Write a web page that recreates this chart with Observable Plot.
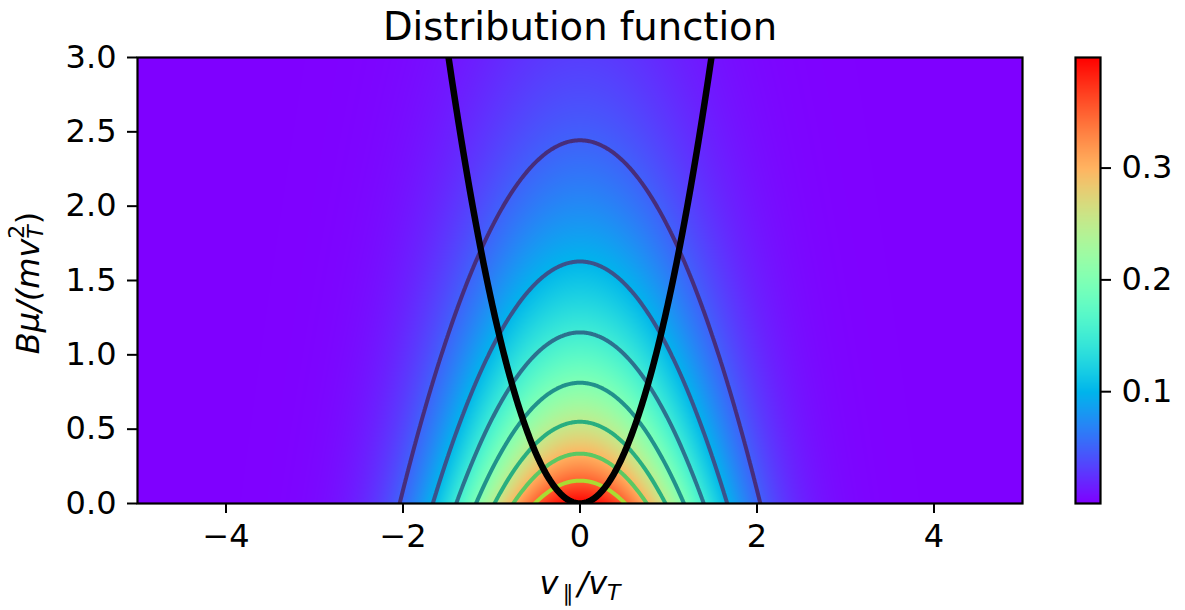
<!DOCTYPE html>
<html>
<head>
<meta charset="utf-8">
<script src="https://cdn.jsdelivr.net/npm/d3@7"></script>
<script src="https://cdn.jsdelivr.net/npm/@observablehq/plot@0.6"></script>
<style>
  html, body { margin: 0; padding: 0; background: #fff; }
  #chart { position: relative; width: 1185px; height: 610px; font-family: "DejaVu Sans", sans-serif; }
  #chart svg { position: absolute; top: 0; }
</style>
</head>
<body>
<div id="chart"></div>
<script>
// Maxwellian distribution over (v_parallel / vT, B mu / (m vT^2))
const peak = 0.3989;        // value at v = 0, mu = 0
const vWidth = 1.0;         // thermal width along v_parallel
const muRate = 0.85;        // decay rate along B mu / (m vT^2)

// contour levels and the top of the viridis range used to colour them
const contourLevels = [0.05, 0.10, 0.15, 0.20, 0.25, 0.30, 0.35];
const contourColorMax = 0.4;

// trapped / passing boundary: mu = coef * v^2
const boundaryCoef = 1.36;
const boundaryV = d3.range(-1.6, 1.6001, 0.01);

// axes
const vDomain = [-5, 5];
const muDomain = [0, 3];
const vTicks = [-4, -2, 0, 2, 4];
const muTicks = [0, 0.5, 1, 1.5, 2, 2.5, 3];
const cbarTicks = [0.1, 0.2, 0.3];

const f = (v, mu) => peak * Math.exp(-(v * v) / (2 * vWidth * vWidth) - muRate * mu);
const boundary = boundaryV.map(v => ({v, mu: boundaryCoef * v * v}));

// matplotlib-style "rainbow" colormap
function rainbow(t) {
  const c = x => Math.max(0, Math.min(1, x));
  const r = c(Math.abs(2 * t - 0.5));
  const g = c(Math.sin(Math.PI * t));
  const b = c(Math.cos(Math.PI * t / 2));
  return d3.rgb(r * 255, g * 255, b * 255).formatHex();
}
const colorScale = {type: "linear", domain: [0, peak], interpolate: rainbow};
const baseStyle = {fontFamily: "DejaVu Sans", fontSize: "32px", color: "black", background: "transparent"};

const main = Plot.plot({
  width: 1185,
  height: 610,
  marginTop: 57,
  marginLeft: 137,
  marginRight: 163,
  marginBottom: 107,
  style: baseStyle,
  x: {domain: vDomain},
  y: {domain: muDomain},
  color: colorScale,
  marks: [
    Plot.raster({fill: f, x1: vDomain[0], x2: vDomain[1], y1: muDomain[0], y2: muDomain[1], pixelSize: 1}),
    ...contourLevels.map(level => Plot.contour({
      value: f,
      x1: vDomain[0], x2: vDomain[1], y1: -0.3, y2: muDomain[1],
      thresholds: [level],
      pixelSize: 1,
      fill: "none",
      stroke: d3.interpolateViridis(level / contourColorMax),
      strokeWidth: 4,
      clip: true
    })),
    Plot.line(boundary, {x: "v", y: "mu", stroke: "black", strokeWidth: 6.5, clip: true}),
    Plot.frame({stroke: "black", strokeWidth: 2.2}),
    Plot.axisX({ticks: vTicks, tickFormat: d3.format("d"), tickSize: 10, tickPadding: 11, strokeWidth: 2, label: null}),
    Plot.axisY({ticks: muTicks, tickFormat: d3.format(".1f"), tickSize: 10, tickPadding: 11, strokeWidth: 2, label: null})
  ]
});

const svg = d3.select(main);
svg.append("text")
  .attr("x", 580).attr("y", 40)
  .attr("text-anchor", "middle")
  .attr("font-size", 38.5)
  .attr("fill", "black")
  .text("Distribution function");

// x label: v_∥ / v_T
const xl = svg.append("text")
  .attr("transform", "translate(580,594)")
  .attr("text-anchor", "middle")
  .attr("font-size", 32)
  .attr("fill", "black");
xl.append("tspan").attr("font-style", "italic").text("v");
xl.append("tspan").attr("font-size", 22).attr("dx", 4).attr("dy", 7).text("\u2225");
xl.append("tspan").attr("dx", 4).attr("dy", -7).attr("font-style", "italic").text("/");
xl.append("tspan").attr("font-style", "italic").text("v");
xl.append("tspan").attr("font-style", "italic").attr("font-size", 22).attr("dy", 6).text("T");

// y label: B mu / (m v_T^2)
const yl = svg.append("text")
  .attr("transform", "translate(39,283) rotate(-90)")
  .attr("text-anchor", "middle")
  .attr("font-size", 32)
  .attr("fill", "black");
yl.append("tspan").attr("font-style", "italic").text("B\u03bc");
yl.append("tspan").attr("font-style", "italic").text("/(");
yl.append("tspan").attr("font-style", "italic").text("mv");
yl.append("tspan").attr("font-size", 22).attr("dy", -15).text("2");
yl.append("tspan").attr("font-style", "italic").attr("font-size", 22).attr("dx", -14).attr("dy", 19).text("T");
yl.append("tspan").attr("dx", 1).attr("dy", -4).text(")");

// colorbar
const cbar = Plot.plot({
  width: 145,
  height: 610,
  marginTop: 57,
  marginLeft: 35,
  marginRight: 85,
  marginBottom: 107,
  style: baseStyle,
  x: {domain: [0, 1], axis: null},
  y: {domain: [0, peak]},
  color: colorScale,
  marks: [
    Plot.raster({fill: (x, y) => y, x1: 0, x2: 1, y1: 0, y2: peak, pixelSize: 1}),
    Plot.frame({stroke: "black", strokeWidth: 2.2}),
    Plot.axisY({anchor: "right", ticks: cbarTicks, tickFormat: d3.format(".1f"), tickSize: 10, tickPadding: 11, strokeWidth: 2, label: null})
  ]
});
cbar.style.left = "1040px";

const chart = document.getElementById("chart");
main.style.left = "0px";
chart.appendChild(main);
chart.appendChild(cbar);
</script>
</body>
</html>
